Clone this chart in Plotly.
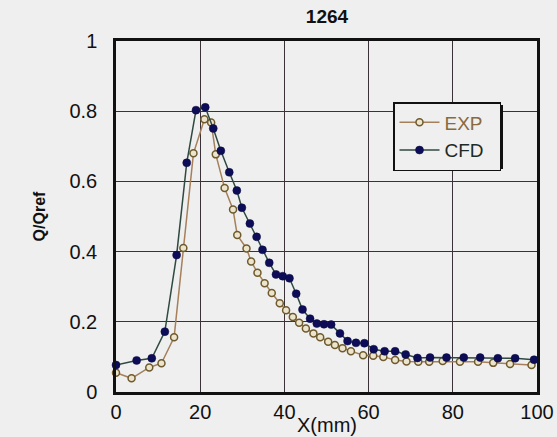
import plotly.graph_objects as go

# Measured (EXP) and simulated (CFD) flow ratio along X
exp_x = [0, 3.7, 7.9, 10.8, 13.8, 16.0, 18.4, 21.0, 22.6, 23.7, 25.8, 27.8, 28.8,
         31.0, 32.1, 33.6, 35.3, 37.0, 38.9, 40.4, 42.0, 43.5, 45.1, 46.9, 48.5,
         50.4, 52.0, 53.8, 55.8, 58.7, 61.1, 63.5, 66.3, 69.0, 71.8, 74.4, 77.6,
         81.7, 86.0, 89.6, 93.6, 98.7]
exp_q = [0.055, 0.039, 0.070, 0.082, 0.156, 0.410, 0.680, 0.777, 0.768, 0.677,
         0.581, 0.520, 0.447, 0.409, 0.372, 0.340, 0.310, 0.282, 0.253, 0.233,
         0.214, 0.197, 0.181, 0.167, 0.156, 0.143, 0.134, 0.125, 0.116, 0.105,
         0.103, 0.100, 0.091, 0.087, 0.086, 0.086, 0.088, 0.086, 0.086, 0.083,
         0.080, 0.077]

cfd_x = [0, 4.9, 8.5, 11.6, 14.4, 16.8, 19.0, 21.2, 23.1, 24.9, 26.9, 28.7, 29.9,
         31.8, 33.4, 34.8, 36.4, 38.0, 39.6, 41.2, 42.8, 44.3, 46.1, 47.7, 49.4,
         51.1, 53.2, 55.0, 57.0, 59.0, 61.2, 63.8, 66.3, 68.8, 71.6, 74.6, 78.5,
         82.6, 86.5, 90.7, 94.8, 99.3]
cfd_q = [0.077, 0.090, 0.096, 0.172, 0.390, 0.653, 0.803, 0.811, 0.751, 0.687,
         0.626, 0.574, 0.525, 0.480, 0.442, 0.405, 0.368, 0.335, 0.330, 0.324,
         0.280, 0.235, 0.209, 0.195, 0.193, 0.192, 0.167, 0.145, 0.140, 0.139,
         0.122, 0.116, 0.116, 0.107, 0.097, 0.098, 0.098, 0.098, 0.098, 0.096,
         0.096, 0.092]

x_ticks = [0, 20, 40, 60, 80, 100]
y_ticks = [0, 0.2, 0.4, 0.6, 0.8, 1]
y_tick_text = ["0", "0.2", "0.4", "0.6", "0.8", "1"]

BG = "#efefef"
FONT = "Liberation Sans, Arial, sans-serif"
PLOT_L, PLOT_B, PLOT_W, PLOT_H = 116, 392, 421, 351


def px_x(p):
    return (p - PLOT_L) / PLOT_W


def px_y(p):
    return (PLOT_B - p) / PLOT_H


fig = go.Figure()
fig.add_trace(go.Scatter(
    x=exp_x, y=exp_q, mode="lines+markers",
    name='<span style="color:#8a6a3c">EXP</span>&nbsp;&nbsp;',
    line=dict(color="#a5805a", width=1.5),
    marker=dict(symbol="circle", size=7, color="#ece4cc",
                line=dict(color="#6e5a2c", width=1.5)),
    cliponaxis=False,
))
fig.add_trace(go.Scatter(
    x=cfd_x, y=cfd_q, mode="lines+markers",
    name='<span style="color:#1c2a28">CFD</span>&nbsp;&nbsp;',
    line=dict(color="#2f4a40", width=1.5),
    marker=dict(symbol="circle", size=8, color="#0c0c58",
                line=dict(color="#0c0c40", width=0.5)),
    cliponaxis=False,
))

# drop shadow behind the legend box
fig.add_shape(type="rect", xref="paper", yref="paper",
              x0=px_x(397), x1=px_x(503), y0=px_y(169), y1=px_y(105),
              fillcolor="#111111", line=dict(width=0), layer="above")

axis_common = dict(
    showline=True, linecolor="#111111", linewidth=2.5, mirror=True,
    showgrid=True, gridcolor="#3a3238", gridwidth=1,
    zeroline=False, ticks="", color="#111111", automargin=False,
    tickfont=dict(family=FONT, size=20, color="#111111"),
)

fig.add_annotation(
    text="X(mm)", xref="paper", yref="paper",
    x=0.5, y=px_y(425), xanchor="center", yanchor="middle",
    showarrow=False, font=dict(family=FONT, size=20, color="#111111"),
)

fig.update_layout(
    width=557, height=437,
    margin=dict(l=116, r=20, t=41, b=45),
    paper_bgcolor=BG, plot_bgcolor=BG,
    font=dict(family=FONT, color="#111111"),
    title=dict(text="<b>1264</b>", x=327 / 557, xanchor="center",
               y=1 - 16 / 437, yanchor="middle",
               font=dict(family=FONT, size=19, color="#111111")),
    xaxis=dict(range=[0, 100], tickvals=x_ticks, ticklabelstandoff=0,
               **axis_common),
    yaxis=dict(range=[0, 1], tickvals=y_ticks, ticktext=y_tick_text,
               ticklabelstandoff=12,
               title=dict(text="<b>Q/Qref</b>", standoff=20,
                          font=dict(family=FONT, size=16, color="#111111")),
               **axis_common),
    showlegend=True,
    legend=dict(x=px_x(393), y=px_y(102), xanchor="left", yanchor="top",
                bgcolor=BG, bordercolor="#111111", borderwidth=1.5,
                font=dict(family=FONT, size=19, color="#111111"),
                tracegroupgap=0, itemwidth=40),
)

fig.write_html("out.html")
